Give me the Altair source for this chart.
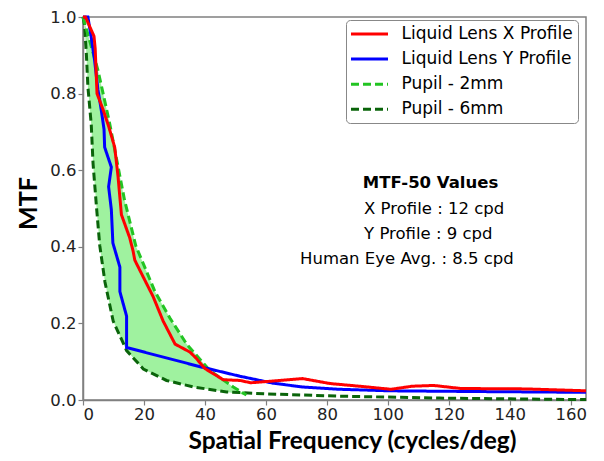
import altair as alt
import pandas as pd

# ---- data ----
x_prof_f = [0, 0.8, 3.6, 4.0, 4.6, 6.6, 8.4, 10.4, 11.5, 12.6, 15.3, 16.4, 17, 19.2, 23, 26.3,
            30.2, 35.1, 37, 40, 46, 51.5, 55, 63, 72, 81, 92, 101, 108, 115, 124, 145, 165]
x_prof_m = [1.0, 1.0, 0.95, 0.917, 0.80, 0.758, 0.715, 0.66, 0.583, 0.484, 0.424, 0.39, 0.365,
            0.33, 0.27, 0.206, 0.146, 0.125, 0.11, 0.082, 0.053, 0.051, 0.045, 0.05, 0.056,
            0.043, 0.035, 0.028, 0.036, 0.038, 0.03, 0.029, 0.024]

y_prof_f = [0, 1.6, 2.7, 3.8, 4.9, 5.8, 6.9, 7.1, 9.3, 8.4, 9.3, 9.8, 12.1, 12.1, 14.3, 14.3,
            38.4, 51.5, 62.3, 72, 84, 100.7, 130, 165]
y_prof_m = [1.0, 1.0, 0.947, 0.887, 0.81, 0.767, 0.707, 0.66, 0.608, 0.557, 0.497, 0.41, 0.347,
            0.283, 0.219, 0.137, 0.087, 0.062, 0.044, 0.034, 0.028, 0.024, 0.022, 0.02]

p2_f = [0, 4.9, 6.6, 8.7, 13.6, 17.3, 23.6, 28.5, 34, 41.6, 49.3, 53.6]
p2_m = [1.0, 0.861, 0.80, 0.724, 0.523, 0.403, 0.283, 0.214, 0.146, 0.077, 0.034, 0.013]

p6_f = [0, 0.5, 1.1, 1.6, 2.7, 3.3, 4.4, 5.5, 7.2, 9.9, 14.3, 19.8, 27.4, 36.2, 47.1, 60, 84,
        117, 140, 165]
p6_m = [1.0, 0.98, 0.904, 0.818, 0.72, 0.617, 0.506, 0.403, 0.308, 0.206, 0.129, 0.081, 0.051,
        0.034, 0.021, 0.016, 0.01, 0.005, 0.003, 0.001]

series_names = ["Liquid Lens X Profile", "Liquid Lens Y Profile", "Pupil - 2mm", "Pupil - 6mm"]
series_colors = ["#ff0000", "#0000ff", "#22c422", "#0a640a"]
series_dash = [[1, 0], [1, 0], [8, 4], [8, 4]]
series_width = [3, 3, 2.6, 2.6]

annot_lines = ["MTF-50 Values", "X Profile : 12 cpd", "Y Profile : 9 cpd", "Human Eye Avg. : 8.5 cpd"]
annot_bold = [True, False, False, False]
annot_x = [91.8, 92.2, 92.2, 71.2]
annot_y = [0.554, 0.485, 0.420, 0.355]

# ---- tables ----
rows = []
for name, fs, ms in zip(series_names, [x_prof_f, y_prof_f, p2_f, p6_f], [x_prof_m, y_prof_m, p2_m, p6_m]):
    for i, (f, m) in enumerate(zip(fs, ms)):
        rows.append({"series": name, "f": f, "m": m, "i": i})
df = pd.DataFrame(rows)

# fill polygon between the two pupil curves (2mm forward, 6mm backward)
poly = [{"f": f, "m": m} for f, m in zip(p2_f, p2_m)]
poly += [{"f": f, "m": m} for f, m in reversed(list(zip(p6_f, p6_m))) if f <= 47.1]
poly_df = pd.DataFrame(poly)
poly_df["i"] = range(len(poly_df))

ann_df = pd.DataFrame({"t": annot_lines, "f": annot_x, "m": annot_y, "b": annot_bold})

xs = alt.Scale(domain=[0, 165], nice=False, zero=False)
ys = alt.Scale(domain=[0, 1], nice=False, zero=False)

X = alt.X("f:Q", scale=xs, axis=alt.Axis(
    title="Spatial Frequency (cycles/deg)", values=list(range(0, 161, 20)),
    titleX=269, titleY=48, titleAnchor="middle", titleBaseline="alphabetic",
    titleFontSize=24.5, labelPadding=1))
Y = alt.Y("m:Q", scale=ys, axis=alt.Axis(
    title="MTF", values=[0, 0.2, 0.4, 0.6, 0.8, 1.0], format=".1f",
    titleX=-55, titleY=186, titleBaseline="middle", titleAngle=-90))

fill = alt.Chart(poly_df).mark_line(fill="#9ff29f", strokeWidth=0, strokeOpacity=0).encode(
    x=X, y=Y, order=alt.Order("i:Q"))

color = alt.Color("series:N", scale=alt.Scale(domain=series_names, range=series_colors),
                  legend=alt.Legend(title=None, orient="none", legendX=263, legendY=3,
                                    symbolType="M-2.467,0L2.467,0", symbolSize=225,
                                    symbolStrokeWidth=3, symbolOffset=9.5,
                                    labelFontSize=17, labelFont="DejaVu Sans", labelColor="#000",
                                    labelOffset=23, rowPadding=8.1, padding=5,
                                    fillColor="white", strokeColor="#888", cornerRadius=4,
                                    labelLimit=400))
dash = alt.StrokeDash("series:N", scale=alt.Scale(domain=series_names, range=series_dash), legend=None)
width = alt.StrokeWidth("series:N", scale=alt.Scale(domain=series_names, range=series_width), legend=None)

layers = [fill]
for name in ["Pupil - 6mm", "Pupil - 2mm", "Liquid Lens Y Profile", "Liquid Lens X Profile"]:
    layers.append(alt.Chart(df).transform_filter(alt.datum.series == name).mark_line().encode(
        x=X, y=Y, color=color, strokeDash=dash, strokeWidth=width, order=alt.Order("i:Q")))

text_norm = alt.Chart(ann_df).transform_filter("!datum.b").mark_text(
    align="left", baseline="alphabetic", font="DejaVu Sans", fontSize=16.5, color="#000").encode(
    x=alt.X("f:Q", scale=xs), y=alt.Y("m:Q", scale=ys), text="t:N")
text_bold = alt.Chart(ann_df).transform_filter("datum.b").mark_text(
    align="left", baseline="alphabetic", font="DejaVu Sans", fontSize=16.5, fontWeight="bold",
    color="#000").encode(
    x=alt.X("f:Q", scale=xs), y=alt.Y("m:Q", scale=ys), text="t:N")
layers += [text_norm, text_bold]

chart = alt.layer(*layers).properties(
    width=503, height=383,
    autosize=alt.AutoSizeParams(type="none"),
    padding={"left": 75, "top": 9, "right": 8, "bottom": 53},
).configure_view(stroke="#808080", strokeWidth=1.5).configure_axis(
    grid=False, domainColor="#808080", domainWidth=1.5, tickColor="#808080", tickSize=5,
    tickWidth=1.2, labelFont="DejaVu Sans", labelFontSize=16.5, labelColor="#222",
    labelPadding=2, titleFont="Lato", titleFontSize=25, titleFontWeight="bold",
    titleColor="#000", zindex=1
)

chart.save("out.html", embed_options={"renderer": "svg", "actions": False})
